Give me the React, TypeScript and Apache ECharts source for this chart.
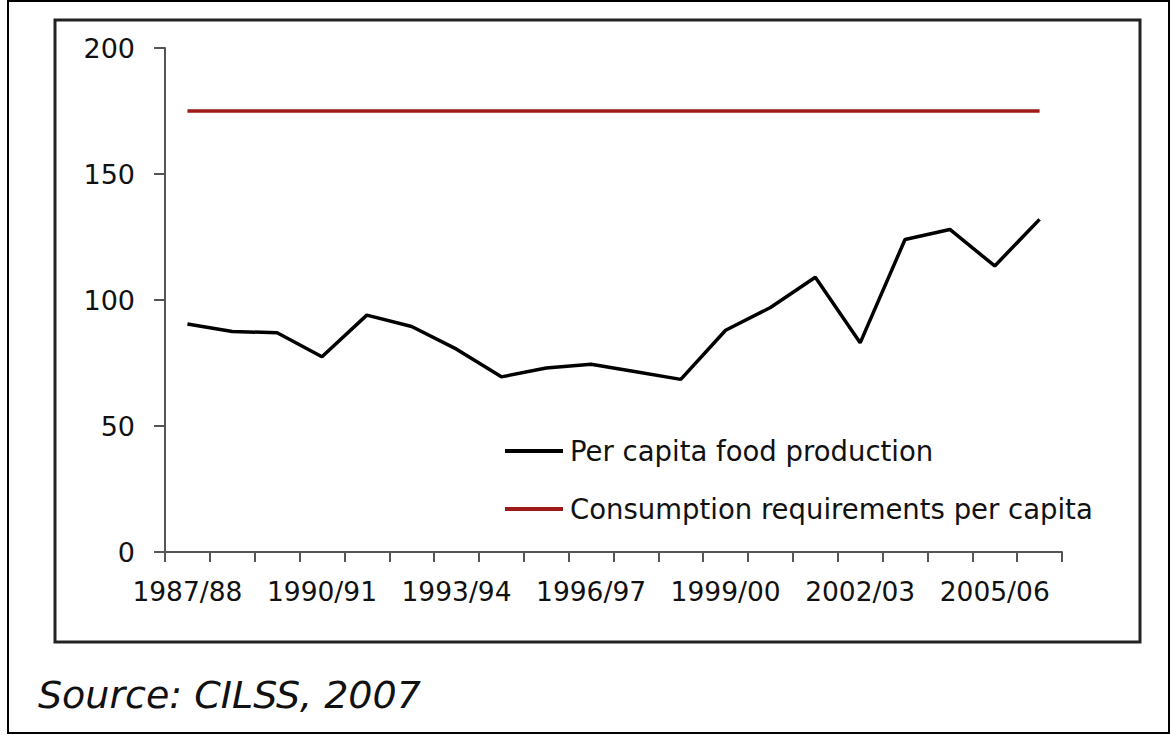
import React, { useEffect, useRef } from "react";
import * as echarts from "echarts";

const categories = [
  "1987/88", "1988/89", "1989/90", "1990/91", "1991/92", "1992/93", "1993/94",
  "1994/95", "1995/96", "1996/97", "1997/98", "1998/99", "1999/00", "2000/01",
  "2001/02", "2002/03", "2003/04", "2004/05", "2005/06", "2006/07",
];

const perCapitaProduction = [
  90.5, 87.5, 87, 77.5, 94, 89.5, 80.5, 69.5, 73, 74.5,
  71.5, 68.5, 88, 97, 109, 83, 124, 128, 113.5, 132,
];

const consumptionRequirement = [
  175, 175, 175, 175, 175, 175, 175, 175, 175, 175,
  175, 175, 175, 175, 175, 175, 175, 175, 175, 175,
];

const seriesNames = ["Per capita food production", "Consumption requirements per capita"];
const sourceText = "Source: CILSS, 2007";

const FONT = "DejaVu Sans";

export default function App() {
  const ref = useRef<HTMLDivElement>(null);
  useEffect(() => {
    if (!ref.current) return;
    const chart = echarts.init(ref.current, null, { renderer: "svg" });
    chart.setOption({
      animation: false,
      backgroundColor: "#ffffff",
      grid: { left: 165, right: 109, top: 48, bottom: 183, containLabel: false },
      legend: {
        orient: "vertical",
        left: 500,
        top: 431,
        itemWidth: 58,
        itemHeight: 4,
        itemGap: 28,
        icon: "rect",
        data: seriesNames,
        textStyle: {
          fontFamily: FONT,
          fontSize: 27.5,
          color: "#111",
          lineHeight: 30,
          padding: [0, 0, 0, 2],
        },
      },
      xAxis: {
        type: "category",
        data: categories,
        boundaryGap: true,
        axisLine: { show: true, lineStyle: { color: "#555", width: 2 } },
        axisTick: { show: true, interval: 0, length: 10, lineStyle: { color: "#555", width: 2 } },
        axisLabel: {
          interval: 2,
          fontFamily: FONT,
          fontSize: 26.5,
          color: "#111",
          margin: 26,
        },
        splitLine: { show: false },
      },
      yAxis: {
        type: "value",
        min: 0,
        max: 200,
        interval: 50,
        axisLine: { show: true, lineStyle: { color: "#555", width: 2 } },
        axisTick: { show: true, length: 11, lineStyle: { color: "#555", width: 2 } },
        axisLabel: {
          fontFamily: FONT,
          fontSize: 27,
          color: "#111",
          margin: 30,
        },
        splitLine: { show: false },
      },
      series: [
        {
          name: seriesNames[0],
          type: "line",
          data: perCapitaProduction,
          symbol: "none",
          lineStyle: { color: "#000", width: 3.5 },
          itemStyle: { color: "#000" },
        },
        {
          name: seriesNames[1],
          type: "line",
          data: consumptionRequirement,
          symbol: "none",
          lineStyle: { color: "#9c1a1a", width: 3.5 },
          itemStyle: { color: "#9c1a1a" },
        },
      ],
      graphic: [
        {
          type: "rect",
          shape: { x: 8, y: 1, width: 1161, height: 732 },
          style: { fill: "none", stroke: "#000", lineWidth: 2 },
          silent: true,
        },
        {
          type: "rect",
          shape: { x: 55, y: 20, width: 1085, height: 622 },
          style: { fill: "none", stroke: "#222", lineWidth: 3 },
          silent: true,
        },
        {
          type: "text",
          left: 38,
          top: 676,
          style: {
            text: sourceText,
            fontFamily: FONT,
            fontStyle: "italic",
            fontSize: 38,
            fill: "#111",
          },
        },
      ],
    });
    return () => chart.dispose();
  }, []);
  return (
    <div
      ref={ref}
      style={{ position: "fixed", left: 0, top: 0, width: 1171, height: 735 }}
    />
  );
}
